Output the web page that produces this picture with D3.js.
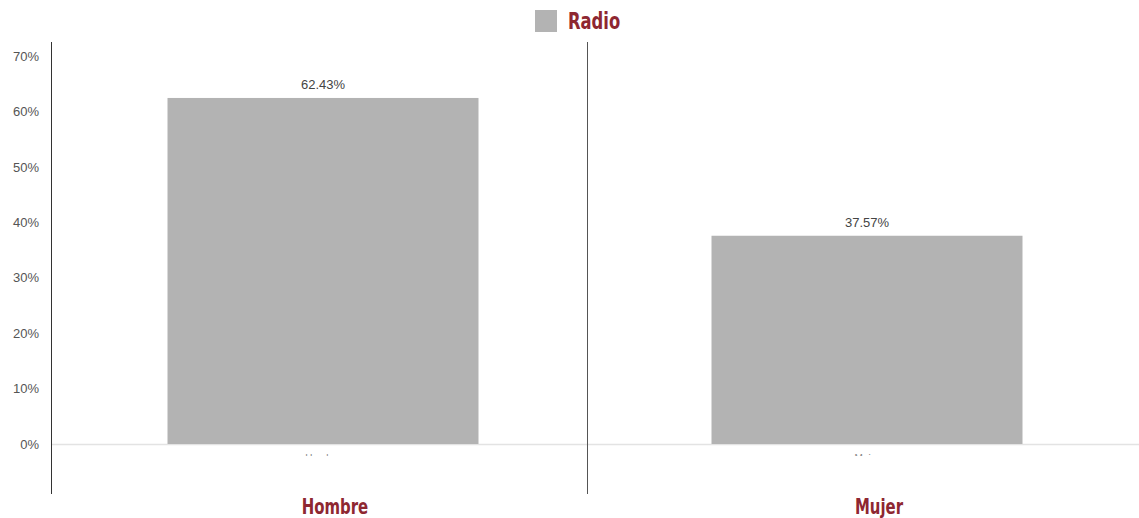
<!DOCTYPE html>
<html><head><meta charset="utf-8">
<script src="https://cdn.jsdelivr.net/npm/d3@7"></script>
<style>
html,body{margin:0;padding:0;background:#fff;}
svg{display:block;}
</style></head>
<body>
<svg id="c" width="1139" height="518"></svg>
<script>
const categories = ["Hombre", "Mujer"];
const values = [62.43, 37.57];
const seriesName = "Radio";
const yTicks = [0, 10, 20, 30, 40, 50, 60, 70];

(function () {
const svg = d3.select("#c");
const W = 1139;
const mLeft = 51, mTop = 42, mBottom = 494, zeroY = 444;
const red = "#8e2731";
const barColor = "#b3b3b3";
const condensed = "'Liberation Sans Narrow','DejaVu Sans Condensed','Roboto Condensed',sans-serif";
const sx = 0.79;

const y = d3.scaleLinear().domain([0, 70]).range([zeroY, 56]);
const facet = d3.scaleBand().domain(categories).range([mLeft, mLeft + 544 * 2]);
const inner = d3.scaleBand().domain([seriesName]).range([0, facet.bandwidth()]).paddingInner(0).paddingOuter(0.3746);

// legend
const lg = svg.append("g");
lg.append("rect").attr("x", 535).attr("y", 10).attr("width", 22).attr("height", 22).attr("fill", barColor);
lg.append("text").attr("transform", `translate(568,29) scale(${sx},1)`).text(seriesName)
  .attr("font-family", condensed).attr("font-weight", "bold").attr("font-size", 23).attr("fill", red);

// baseline gridline
svg.append("line").attr("x1", mLeft).attr("x2", W).attr("y1", y(0) + 0.5).attr("y2", y(0) + 0.5)
  .attr("stroke", "#e3e3e3").attr("stroke-width", 1.5);

// y axis labels
const ya = svg.append("g").attr("transform", `translate(39,0)`)
  .call(d3.axisLeft(y).tickValues(yTicks).tickFormat(d => d + "%").tickSize(0).tickPadding(0));
ya.select(".domain").remove();
ya.selectAll("text").attr("font-family", "'Liberation Sans',Arial,sans-serif").attr("font-size", 13).attr("fill", "#555");

// bars
const bars = svg.append("g").selectAll("g").data(categories).join("g")
  .attr("transform", d => `translate(${facet(d)},0)`);
bars.append("rect")
  .attr("x", inner(seriesName)).attr("width", inner.bandwidth())
  .attr("y", (d, i) => y(values[i])).attr("height", (d, i) => y(0) - y(values[i]))
  .attr("fill", barColor);
bars.append("text")
  .attr("x", inner(seriesName) + inner.bandwidth() / 2)
  .attr("y", (d, i) => y(values[i]) - 9)
  .attr("text-anchor", "middle")
  .attr("font-family", "'Liberation Sans',Arial,sans-serif").attr("font-size", 13).attr("fill", "#444")
  .text((d, i) => values[i].toFixed(2) + "%");

// clipped tiny tick labels under bars
svg.append("clipPath").attr("id", "tclip").append("rect").attr("x", -2000).attr("y", 453).attr("width", 5000).attr("height", 3);
bars.append("text")
  .attr("clip-path", "url(#tclip)")
  .attr("x", inner(seriesName) + inner.bandwidth() / 2)
  .attr("y", 462).attr("text-anchor", "middle")
  .attr("font-family", "'Liberation Sans',Arial,sans-serif").attr("font-size", 10).attr("fill", "#888")
  .text(d => d);

// facet labels
bars.append("text")
  .attr("transform", `translate(${facet.bandwidth() / 2 + 12},514) scale(${sx},1)`)
  .attr("text-anchor", "middle")
  .attr("font-family", condensed).attr("font-weight", "bold").attr("font-size", 21).attr("fill", red)
  .text(d => d);

// vertical lines
svg.append("line").attr("x1", mLeft + 0.5).attr("x2", mLeft + 0.5).attr("y1", mTop).attr("y2", mBottom)
  .attr("stroke", "#333").attr("stroke-width", 1);
svg.append("line").attr("x1", 587.5).attr("x2", 587.5).attr("y1", mTop).attr("y2", mBottom)
  .attr("stroke", "#555").attr("stroke-width", 1);
})();
</script>
</body></html>
